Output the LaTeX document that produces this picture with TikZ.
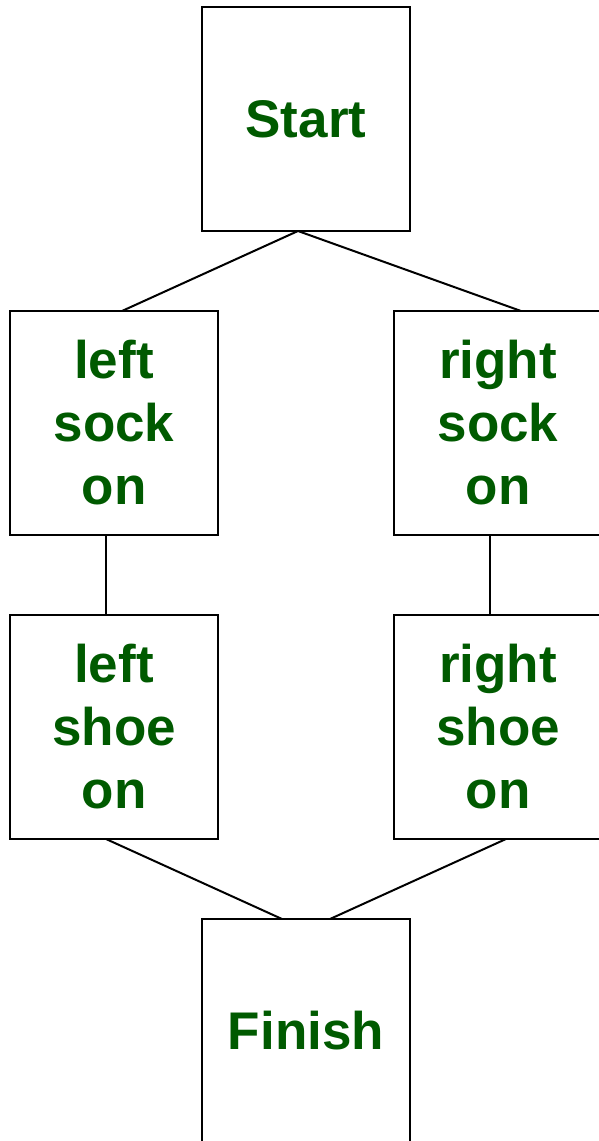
\documentclass[tikz,border=0pt]{standalone}
\usepackage{fontspec}
\setmainfont{Liberation Sans}
\usepackage{xcolor}
\usepackage{tikz}
\usetikzlibrary{positioning}
\definecolor{labelgreen}{HTML}{005A00}

\begin{document}
\begin{tikzpicture}[
  x=1pt,y=-1pt,
  node distance=80pt and 176pt,
  task/.style={draw=black,line width=2pt,minimum width=208pt,minimum height=224pt,inner sep=0pt,outer sep=0pt,
    align=center,text=labelgreen,font=\fontsize{53}{63}\selectfont\bfseries},
  link/.style={line width=2pt,draw=black}
]
\useasboundingbox (0,0) rectangle (598,1141);
\node[task] (start) at (306,119) {Start};
\node[task] (lsock) at (114,423) {left\\sock\\on};
\node[task,right=of lsock] (rsock) {right\\sock\\on};
\node[task,below=of lsock] (lshoe) {left\\shoe\\on};
\node[task,below=of rsock] (rshoe) {right\\shoe\\on};
\node[task] (finish) at (306,1031) {Finish};
\draw[link] ([xshift=-8pt]start.south) -- ([xshift=8pt]lsock.north);
\draw[link] ([xshift=-8pt]start.south) -- ([xshift=23pt]rsock.north);
\draw[link] ([xshift=-8pt]lsock.south) -- ([xshift=-8pt]lshoe.north);
\draw[link] ([xshift=-8pt]rsock.south) -- ([xshift=-8pt]rshoe.north);
\draw[link] ([xshift=-8pt]lshoe.south) -- ([xshift=-24pt]finish.north);
\draw[link] ([xshift=8pt]rshoe.south) -- ([xshift=24pt]finish.north);
\end{tikzpicture}
\end{document}
